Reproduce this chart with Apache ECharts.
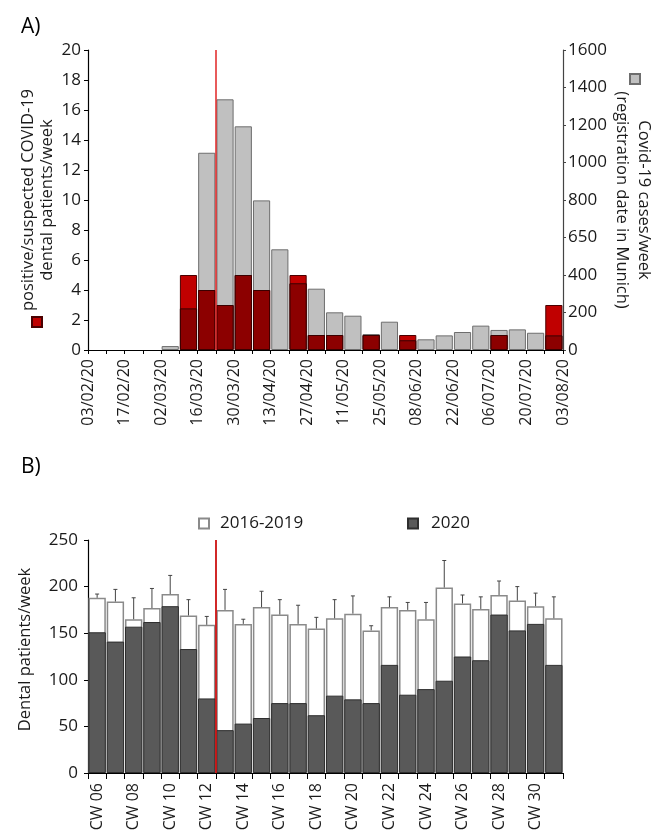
<!DOCTYPE html>
<html><head><meta charset="utf-8">
<script src="https://cdn.jsdelivr.net/npm/echarts@6/dist/echarts.min.js"></script>
<style>html,body{margin:0;padding:0;background:#fff}#c{width:651px;height:834px}</style>
</head><body><div id="c"></div>
<script>
// ---------- Panel A data ----------
const tickDatesA = ['03/02/20','10/02/20','17/02/20','24/02/20','02/03/20','09/03/20','16/03/20','23/03/20','30/03/20','06/04/20','13/04/20','20/04/20','27/04/20','04/05/20','11/05/20','18/05/20','25/05/20','01/06/20','08/06/20','15/06/20','22/06/20','29/06/20','06/07/20','13/07/20','20/07/20','27/07/20','03/08/20'];
const weeksA = tickDatesA.slice(0, 26);
const dentalCovidA = [0,0,0,0,0,5,4,3,5,4,0,5,1,1,0,1,0,1,0,0,0,0,1,0,0,3];
const cityCasesA = [0,0,0,0,21,222,1052,1337,1193,798,537,356,327,201,183,85,151,52,57,78,96,130,107,110,92,78];
const rightTickLabelsA = ['0','200','400','650','800','1000','1200','1400','1600'];
const lockdownTickA = '23/03/20';

// ---------- Panel B data ----------
const weeksB = ['CW 06','CW 07','CW 08','CW 09','CW 10','CW 11','CW 12','CW 13','CW 14','CW 15','CW 16','CW 17','CW 18','CW 19','CW 20','CW 21','CW 22','CW 23','CW 24','CW 25','CW 26','CW 27','CW 28','CW 29','CW 30','CW 31'];
const patients2016_2019 = [188,184,165,177,192,169,159,175,160,178,170,160,155,166,171,153,178,175,165,199,182,176,191,185,179,166];
const patients2020 = [151,141,157,162,179,133,80,46,53,59,75,75,62,83,79,75,116,84,90,99,125,121,170,153,160,116];
const errTop2016_2019 = [192,197,188,198,212,186,168,197,165,195,186,180,167,186,190,158,189,183,183,228,191,189,206,200,193,189];
const lockdownWeekB = 'CW 13';

const LEFT_MAX_A = 20, RIGHT_MAX_A = 1600;
const nz = arr => arr.map(v => v === 0 ? null : v);
const overlapA = dentalCovidA.map((v, i) => Math.min(v, cityCasesA[i] * LEFT_MAX_A / RIGHT_MAX_A));

const FONT = 'Open Sans';
const chart = echarts.init(document.getElementById('c'), null, {renderer: 'canvas'});
const axisTxt = {color: '#1a1a1a', fontSize: 17, fontFamily: FONT};

const option = {
  animation: false,
  backgroundColor: '#fff',
  textStyle: {fontFamily: FONT},
  title: [
    {text: 'A)', left: 16, top: 12, textStyle: {fontSize: 21, fontWeight: 'normal', color: '#000', fontFamily: FONT}},
    {text: 'B)', left: 16, top: 452, textStyle: {fontSize: 21, fontWeight: 'normal', color: '#000', fontFamily: FONT}}
  ],
  legend: [
    {data: ['positive/suspected COVID-19 dental patients/week'], left: 31, top: 316, padding: 0, itemWidth: 10, itemHeight: 10, icon: 'rect', formatter: () => '', selectedMode: false},
    {data: ['Covid-19 cases/week'], left: 629, top: 73, padding: 0, itemWidth: 10, itemHeight: 10, icon: 'rect', formatter: () => '', selectedMode: false},
    {data: ['2016-2019'], left: 198, top: 515, padding: 0, itemWidth: 10, itemHeight: 10, itemGap: 0, icon: 'rect', selectedMode: false, textStyle: {fontSize: 17, color: '#1a1a1a', padding: [0,0,0,6]}},
    {data: ['2020'], left: 407, top: 515, padding: 0, itemWidth: 10, itemHeight: 10, icon: 'rect', selectedMode: false, textStyle: {fontSize: 17, color: '#1a1a1a', padding: [0,0,0,8]}}
  ],
  grid: [
    {left: 88, top: 50, width: 475, height: 300, containLabel: false, outerBoundsMode: 'none'},
    {left: 88, top: 540, width: 475, height: 233, containLabel: false, outerBoundsMode: 'none'}
  ],
  xAxis: [
    {gridIndex: 0, type: 'category', data: weeksA, boundaryGap: true,
     axisLine: {show: true, lineStyle: {color: '#000', width: 1.2}}, axisTick: {show: false}, axisLabel: {show: false}},
    {gridIndex: 0, type: 'category', data: tickDatesA, boundaryGap: false, position: 'bottom',
     axisLine: {show: false}, axisTick: {show: true, interval: 0, length: 4, lineStyle: {color: '#000'}},
     axisLabel: Object.assign({interval: 1, rotate: 90, margin: 9}, axisTxt, {fontSize: 16})},
    {gridIndex: 1, type: 'category', data: weeksB, boundaryGap: true,
     axisLine: {show: true, lineStyle: {color: '#000', width: 1.2}}, axisTick: {show: true, interval: 0, length: 6, lineStyle: {color: '#000'}},
     axisLabel: Object.assign({interval: 1, rotate: 90, margin: 10}, axisTxt, {fontSize: 16})},
    {gridIndex: 1, type: 'value', min: 0, max: weeksB.length, show: false}
  ],
  yAxis: [
    {gridIndex: 0, type: 'value', min: 0, max: LEFT_MAX_A, interval: 2, position: 'left',
     name: 'positive/suspected COVID-19\ndental patients/week', nameLocation: 'middle', nameRotate: 90, nameGap: 31, nameMoveOverlap: false,
     nameTextStyle: {fontSize: 16.5, color: '#1a1a1a', lineHeight: 19},
     axisLine: {show: true, lineStyle: {color: '#000', width: 1.2}}, axisTick: {show: true, length: 4, lineStyle: {color: '#000'}},
     axisLabel: Object.assign({margin: 7}, axisTxt), splitLine: {show: false}},
    {gridIndex: 0, type: 'value', min: 0, max: RIGHT_MAX_A, interval: 200, position: 'right',
     name: 'Covid-19 cases/week\n(registration date in Munich)', nameLocation: 'middle', nameRotate: -90, nameGap: 48, nameMoveOverlap: false,
     nameTextStyle: {fontSize: 16.5, color: '#1a1a1a', lineHeight: 22},
     axisLine: {show: true, lineStyle: {color: '#444', width: 1.2}}, axisTick: {show: true, length: 3, lineStyle: {color: '#444'}},
     axisLabel: Object.assign({margin: 5, formatter: v => rightTickLabelsA[Math.round(v / 200)]}, axisTxt), splitLine: {show: false}},
    {gridIndex: 1, type: 'value', min: 0, max: 250, interval: 50, position: 'left',
     name: 'Dental patients/week', nameLocation: 'middle', nameRotate: 90, nameGap: 54, nameMoveOverlap: false,
     nameTextStyle: {fontSize: 16.5, color: '#1a1a1a', padding: [0,0,0,14]},
     axisLine: {show: true, lineStyle: {color: '#000', width: 1.2}}, axisTick: {show: true, length: 4, lineStyle: {color: '#000'}},
     axisLabel: Object.assign({margin: 10}, axisTxt), splitLine: {show: false}}
  ],
  series: [
    {name: 'Covid-19 cases/week', type: 'bar', xAxisIndex: 0, yAxisIndex: 1, data: nz(cityCasesA),
     barGap: '-100%', barCategoryGap: '6%', z: 2,
     itemStyle: {color: '#c0c0c0', borderColor: '#6e6e6e', borderWidth: 1}},
    {name: 'positive/suspected COVID-19 dental patients/week', type: 'bar', xAxisIndex: 0, yAxisIndex: 0, data: nz(dentalCovidA),
     barGap: '-100%', barCategoryGap: '6%', z: 3,
     itemStyle: {color: '#c00000', borderColor: '#4a0000', borderWidth: 1}},
    {name: 'overlap', type: 'bar', xAxisIndex: 0, yAxisIndex: 0, data: nz(overlapA),
     barGap: '-100%', barCategoryGap: '6%', z: 4,
     itemStyle: {color: '#8c0000', borderColor: '#3a0000', borderWidth: 1}},
    {name: 'lockdownA', type: 'line', xAxisIndex: 1, yAxisIndex: 0, data: tickDatesA.map(() => null), z: 6,
     markLine: {silent: true, symbol: 'none', label: {show: false}, lineStyle: {color: '#e02424', width: 1.5, type: 'solid'},
       data: [{xAxis: lockdownTickA}]}},

    {name: '2016-2019', type: 'bar', xAxisIndex: 2, yAxisIndex: 2, data: patients2016_2019,
     barGap: '-100%', barCategoryGap: '5%', z: 2,
     itemStyle: {color: '#ffffff', borderColor: '#8a8a8a', borderWidth: 1.5}},
    {name: '2020', type: 'bar', xAxisIndex: 2, yAxisIndex: 2, data: patients2020,
     barGap: '-100%', barCategoryGap: '5%', z: 3,
     itemStyle: {color: '#595959', borderColor: '#2e2e2e', borderWidth: 1}},
    {name: 'err', type: 'custom', xAxisIndex: 2, yAxisIndex: 2, z: 4,
     data: patients2016_2019.map((v, i) => [i, v, errTop2016_2019[i]]),
     renderItem: (params, api) => {
       const i = api.value(0);
       const p0 = api.coord([i, api.value(1)]);
       const p1 = api.coord([i, api.value(2)]);
       const st = {stroke: '#444', lineWidth: 1};
       return {type: 'group', children: [
         {type: 'line', shape: {x1: p0[0], y1: p0[1], x2: p1[0], y2: p1[1]}, style: st},
         {type: 'line', shape: {x1: p1[0] - 2, y1: p1[1], x2: p1[0] + 2, y2: p1[1]}, style: st}
       ]};
     }},
    {name: 'lockdownB', type: 'line', xAxisIndex: 3, yAxisIndex: 2, data: [], z: 6,
     markLine: {silent: true, symbol: 'none', label: {show: false}, lineStyle: {color: '#cc1111', width: 1.8, type: 'solid'},
       data: [{xAxis: weeksB.indexOf(lockdownWeekB)}]}}
  ]
};
chart.setOption(option);
</script>
</body></html>
